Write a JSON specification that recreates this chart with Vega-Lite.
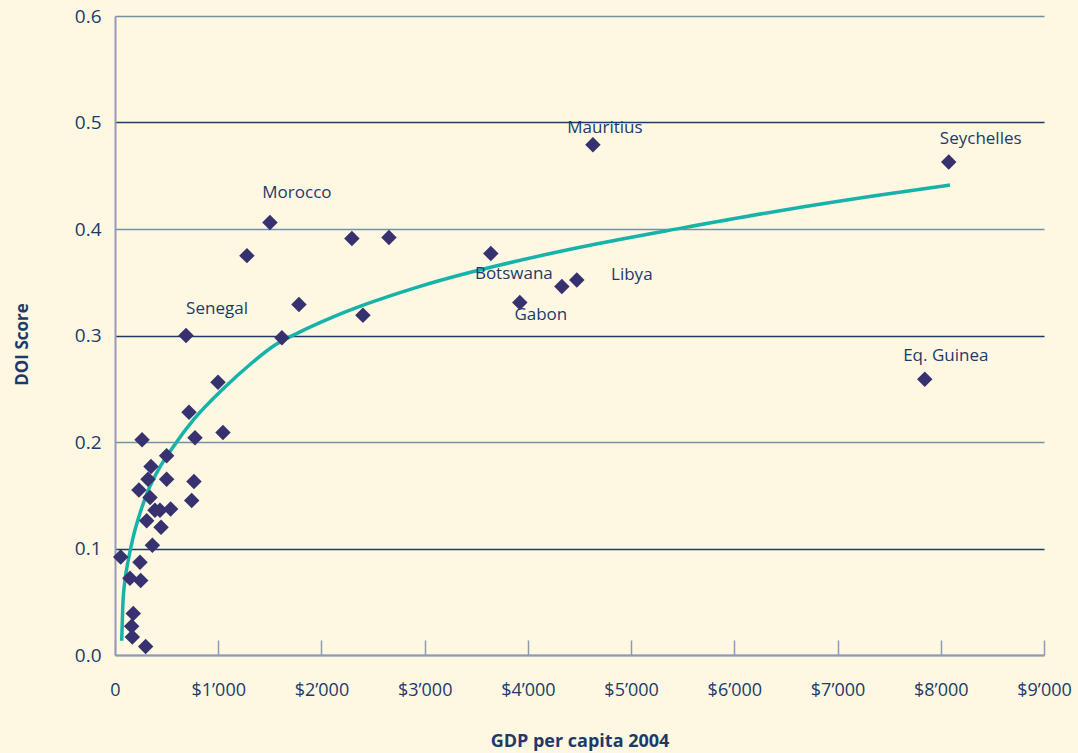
{
  "$schema": "https://vega.github.io/schema/vega-lite/v6.json",
  "width": 929,
  "height": 639,
  "autosize": "none",
  "padding": {"left": 115, "top": 16, "right": 34, "bottom": 98},
  "background": "#fef8e2",
  "config": {
    "view": {"stroke": null},
    "font": "Open Sans"
  },
  "datasets": {
    "points": [
      {"gdp": 4630, "doi": 0.479, "country": "Mauritius"},
      {"gdp": 8077, "doi": 0.463, "country": "Seychelles"},
      {"gdp": 7845, "doi": 0.259, "country": "Eq. Guinea"},
      {"gdp": 4474, "doi": 0.352, "country": "Libya"},
      {"gdp": 4329, "doi": 0.346, "country": ""},
      {"gdp": 3922, "doi": 0.331, "country": "Gabon"},
      {"gdp": 3641, "doi": 0.377, "country": "Botswana"},
      {"gdp": 2654, "doi": 0.392, "country": ""},
      {"gdp": 2295, "doi": 0.391, "country": ""},
      {"gdp": 2402, "doi": 0.319, "country": ""},
      {"gdp": 1501, "doi": 0.406, "country": "Morocco"},
      {"gdp": 1278, "doi": 0.375, "country": ""},
      {"gdp": 1782, "doi": 0.329, "country": ""},
      {"gdp": 1617, "doi": 0.298, "country": ""},
      {"gdp": 688, "doi": 0.300, "country": "Senegal"},
      {"gdp": 998, "doi": 0.256, "country": ""},
      {"gdp": 717, "doi": 0.228, "country": ""},
      {"gdp": 1046, "doi": 0.209, "country": ""},
      {"gdp": 775, "doi": 0.204, "country": ""},
      {"gdp": 262, "doi": 0.202, "country": ""},
      {"gdp": 500, "doi": 0.187, "country": ""},
      {"gdp": 349, "doi": 0.177, "country": ""},
      {"gdp": 320, "doi": 0.165, "country": ""},
      {"gdp": 500, "doi": 0.165, "country": ""},
      {"gdp": 765, "doi": 0.163, "country": ""},
      {"gdp": 232, "doi": 0.155, "country": ""},
      {"gdp": 339, "doi": 0.148, "country": ""},
      {"gdp": 743, "doi": 0.145, "country": ""},
      {"gdp": 387, "doi": 0.136, "country": ""},
      {"gdp": 436, "doi": 0.136, "country": ""},
      {"gdp": 539, "doi": 0.137, "country": ""},
      {"gdp": 307, "doi": 0.126, "country": ""},
      {"gdp": 446, "doi": 0.120, "country": ""},
      {"gdp": 362, "doi": 0.103, "country": ""},
      {"gdp": 55, "doi": 0.092, "country": ""},
      {"gdp": 242, "doi": 0.087, "country": ""},
      {"gdp": 145, "doi": 0.072, "country": ""},
      {"gdp": 249, "doi": 0.070, "country": ""},
      {"gdp": 177, "doi": 0.039, "country": ""},
      {"gdp": 161, "doi": 0.027, "country": ""},
      {"gdp": 168, "doi": 0.017, "country": ""},
      {"gdp": 297, "doi": 0.008, "country": ""}
    ],
    "trend": [
      {"gdp": 65, "doi": 0.0134},
      {"gdp": 75, "doi": 0.0453},
      {"gdp": 97, "doi": 0.0704},
      {"gdp": 129, "doi": 0.0892},
      {"gdp": 177, "doi": 0.1111},
      {"gdp": 242, "doi": 0.1331},
      {"gdp": 323, "doi": 0.1549},
      {"gdp": 419, "doi": 0.1737},
      {"gdp": 565, "doi": 0.1956},
      {"gdp": 759, "doi": 0.2207},
      {"gdp": 1066, "doi": 0.2516},
      {"gdp": 1308, "doi": 0.2728},
      {"gdp": 1550, "doi": 0.2911},
      {"gdp": 1792, "doi": 0.3034},
      {"gdp": 2115, "doi": 0.3175},
      {"gdp": 2438, "doi": 0.3296},
      {"gdp": 2923, "doi": 0.3452},
      {"gdp": 3407, "doi": 0.3584},
      {"gdp": 3730, "doi": 0.3662},
      {"gdp": 4505, "doi": 0.3828},
      {"gdp": 5474, "doi": 0.4006},
      {"gdp": 6442, "doi": 0.4172},
      {"gdp": 7411, "doi": 0.4319},
      {"gdp": 8089, "doi": 0.4413}
    ]
  },
  "data": {"name": "points"},
  "encoding": {
    "x": {
      "field": "gdp",
      "type": "quantitative",
      "scale": {"domain": [0, 9000], "nice": false, "zero": false},
      "axis": {
        "title": "GDP per capita 2004",
        "titleFont": "Open Sans",
        "titleFontSize": 18,
        "titleFontWeight": "bold",
        "titleColor": "#1d3a6b",
        "titleY": 86,
        "titleBaseline": "middle",
        "values": [0, 1000, 2000, 3000, 4000, 5000, 6000, 7000, 8000, 9000],
        "labelExpr": "datum.value == 0 ? '0' : '$' + floor(datum.value/1000) + '’000'",
        "labelFontSize": 18,
        "labelColor": "#1d3a6b",
        "labelBaseline": "middle",
        "labelPadding": 50,
        "labelFlush": false,
        "grid": false,
        "domainColor": "#8d9ab5",
        "domainWidth": 2,
        "tickColor": "#8d9ab5",
        "tickWidth": 1.5,
        "tickSize": -15
      }
    },
    "y": {
      "field": "doi",
      "type": "quantitative",
      "scale": {"domain": [0, 0.6], "nice": false},
      "axis": {
        "title": "DOI Score",
        "titleFont": "Open Sans",
        "titleFontSize": 17,
        "titleFontWeight": "bold",
        "titleColor": "#1d3a6b",
        "titleAngle": -90,
        "titleX": -93,
        "titleY": 328,
        "titleAlign": "center",
        "titleBaseline": "middle",
        "values": [0, 0.1, 0.2, 0.3, 0.4, 0.5, 0.6],
        "format": ".1f",
        "labelFontSize": 19,
        "labelColor": "#1d3a6b",
        "labelPadding": 14,
        "ticks": false,
        "grid": true,
        "gridColor": {
          "condition": {"test": "round(datum.value*10) % 2 == 1", "value": "#1d3a62"},
          "value": "#7391a5"
        },
        "gridWidth": 1.5,
        "domainColor": "#9a98b8",
        "domainWidth": 2
      }
    }
  },
  "layer": [
    {
      "data": {"name": "trend"},
      "mark": {"type": "line", "color": "#17b3aa", "strokeWidth": 3.5, "interpolate": "monotone"},
      "encoding": {}
    },
    {
      "mark": {"type": "point", "shape": "diamond", "filled": true, "size": 240, "color": "#37326f", "opacity": 1}
    },
    {
      "transform": [{"filter": "datum.country == 'Mauritius'"}],
      "mark": {"type": "text", "dx": 12, "dy": -17, "fontSize": 17, "color": "#1d3a6b", "baseline": "middle"},
      "encoding": {"text": {"field": "country"}}
    },
    {
      "transform": [{"filter": "datum.country == 'Seychelles'"}],
      "mark": {"type": "text", "dx": 32, "dy": -23, "fontSize": 17, "color": "#1d3a6b", "baseline": "middle"},
      "encoding": {"text": {"field": "country"}}
    },
    {
      "transform": [{"filter": "datum.country == 'Eq. Guinea'"}],
      "mark": {"type": "text", "dx": 21, "dy": -23, "fontSize": 17, "color": "#1d3a6b", "baseline": "middle"},
      "encoding": {"text": {"field": "country"}}
    },
    {
      "transform": [{"filter": "datum.country == 'Libya'"}],
      "mark": {"type": "text", "dx": 55, "dy": -5, "fontSize": 17, "color": "#1d3a6b", "baseline": "middle"},
      "encoding": {"text": {"field": "country"}}
    },
    {
      "transform": [{"filter": "datum.country == 'Gabon'"}],
      "mark": {"type": "text", "dx": 21, "dy": 13, "fontSize": 17, "color": "#1d3a6b", "baseline": "middle"},
      "encoding": {"text": {"field": "country"}}
    },
    {
      "transform": [{"filter": "datum.country == 'Botswana'"}],
      "mark": {"type": "text", "dx": 23, "dy": 21, "fontSize": 17, "color": "#1d3a6b", "baseline": "middle"},
      "encoding": {"text": {"field": "country"}}
    },
    {
      "transform": [{"filter": "datum.country == 'Morocco'"}],
      "mark": {"type": "text", "dx": 27, "dy": -30, "fontSize": 17, "color": "#1d3a6b", "baseline": "middle"},
      "encoding": {"text": {"field": "country"}}
    },
    {
      "transform": [{"filter": "datum.country == 'Senegal'"}],
      "mark": {"type": "text", "dx": 31, "dy": -27, "fontSize": 17, "color": "#1d3a6b", "baseline": "middle"},
      "encoding": {"text": {"field": "country"}}
    },
    {
      "data": {"values": [{"t": "R² = 0.79"}]},
      "mark": {"type": "text", "fontSize": 17, "color": "#1ab3aa", "baseline": "middle", "align": "center"},
      "encoding": {
        "x": {"datum": 8450, "type": "quantitative"},
        "y": {"datum": 0.551, "type": "quantitative"},
        "text": {"field": "t"}
      }
    }
  ]
}
